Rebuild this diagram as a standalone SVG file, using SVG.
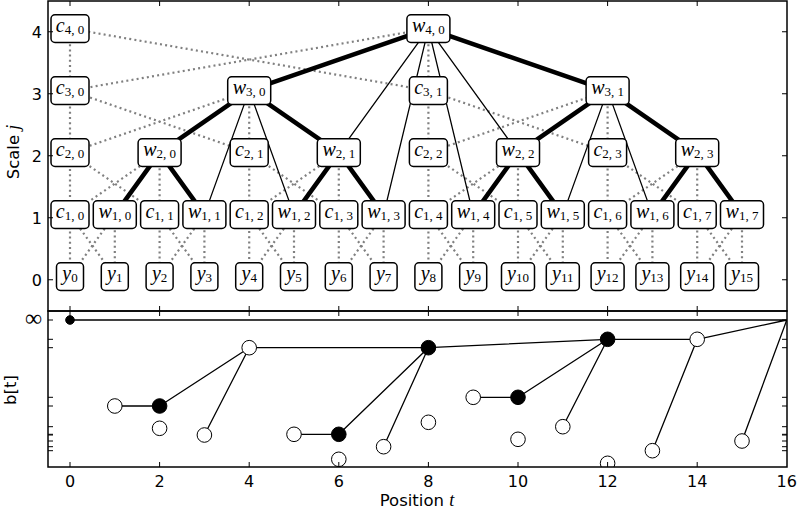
<svg xmlns="http://www.w3.org/2000/svg" width="797" height="510" viewBox="0 0 797 510">
<style>
.frame{fill:none;stroke:#000;stroke-width:1.5}
.tick{stroke:#000;stroke-width:1;fill:none}
.tl{font-family:"DejaVu Sans",sans-serif;font-size:16px;fill:#000}
.al{font-family:"DejaVu Sans",sans-serif;font-size:16.5px;fill:#000}
.mi{font-family:"Liberation Serif",serif;font-style:italic;font-size:18px}
.dot{stroke:#808080;stroke-width:2.2;stroke-dasharray:2 3.2;fill:none}
.thin{stroke:#000;stroke-width:1.3;fill:none}
.thick{stroke:#000;stroke-width:4.5;fill:none}
.box{fill:#fff;stroke:#000;stroke-width:1.5}
.lab{font-family:"Liberation Serif",serif;font-size:20px;font-style:italic;fill:#000;text-anchor:middle}
.sub{font-size:13px;font-style:normal}
.dl{stroke:#000;stroke-width:1.3;fill:none}
.op{fill:#fff;stroke:#000;stroke-width:1}
.fl{fill:#000;stroke:#000;stroke-width:1}
</style>
<defs>
<clipPath id="bclip"><rect x="48" y="311" width="739" height="156"/></clipPath>
</defs>
<rect x="0" y="0" width="797" height="510" fill="#fff"/>

<g id="connectors">
<path class="dot" d="M70 28.6V276.6M428.4 28.6V276.6M249.2 90.6V276.6M607.6 90.6V276.6M159.6 152.6V276.6M338.8 152.6V276.6M518 152.6V276.6M697.2 152.6V276.6M114.8 214.6V276.6M204.4 214.6V276.6M294 214.6V276.6M383.6 214.6V276.6M473.2 214.6V276.6M562.8 214.6V276.6M652.4 214.6V276.6M742 214.6V276.6"/>
<path class="dot" d="M70 90.6L428.4 28.6M428.4 90.6L70 28.6M70 152.6L249.2 90.6M249.2 152.6L70 90.6M428.4 152.6L607.6 90.6M607.6 152.6L428.4 90.6M70 214.6L159.6 152.6M159.6 214.6L70 152.6M249.2 214.6L338.8 152.6M338.8 214.6L249.2 152.6M428.4 214.6L518 152.6M518 214.6L428.4 152.6M607.6 214.6L697.2 152.6M697.2 214.6L607.6 152.6"/>
<path class="dot" d="M70 276.6L114.8 214.6M114.8 276.6L70 214.6M159.6 276.6L204.4 214.6M204.4 276.6L159.6 214.6M249.2 276.6L294 214.6M294 276.6L249.2 214.6M338.8 276.6L383.6 214.6M383.6 276.6L338.8 214.6M428.4 276.6L473.2 214.6M473.2 276.6L428.4 214.6M518 276.6L562.8 214.6M562.8 276.6L518 214.6M607.6 276.6L652.4 214.6M652.4 276.6L607.6 214.6M697.2 276.6L742 214.6M742 276.6L697.2 214.6"/>
<path class="thin" d="M428.4 28.6L338.8 152.6M428.4 28.6L518 152.6M428.4 28.6L383.6 214.6M428.4 28.6L473.2 214.6M249.2 90.6L204.4 214.6M249.2 90.6L294 214.6M607.6 90.6L562.8 214.6M607.6 90.6L652.4 214.6"/>
<path class="thick" d="M428.4 28.6L249.2 90.6M428.4 28.6L607.6 90.6M249.2 90.6L159.6 152.6M249.2 90.6L338.8 152.6M607.6 90.6L518 152.6M607.6 90.6L697.2 152.6M159.6 152.6L114.8 214.6M159.6 152.6L204.4 214.6M338.8 152.6L294 214.6M338.8 152.6L383.6 214.6M518 152.6L473.2 214.6M518 152.6L562.8 214.6M697.2 152.6L652.4 214.6M697.2 152.6L742 214.6"/>
</g>

<g id="c40"><rect class="box" x="51" y="14.8" width="38" height="27.6" rx="4"/><text class="lab" x="70" y="31.8">c<tspan class="sub" dy="2.5">4, 0</tspan></text></g>
<g id="w40"><rect class="box" x="406.9" y="14.8" width="43" height="27.6" rx="4"/><text class="lab" x="428.4" y="31.8">w<tspan class="sub" dy="2.5">4, 0</tspan></text></g>
<g id="c30"><rect class="box" x="51" y="76.8" width="38" height="27.6" rx="4"/><text class="lab" x="70" y="93.8">c<tspan class="sub" dy="2.5">3, 0</tspan></text></g>
<g id="w30"><rect class="box" x="227.7" y="76.8" width="43" height="27.6" rx="4"/><text class="lab" x="249.2" y="93.8">w<tspan class="sub" dy="2.5">3, 0</tspan></text></g>
<g id="c31"><rect class="box" x="409.4" y="76.8" width="38" height="27.6" rx="4"/><text class="lab" x="428.4" y="93.8">c<tspan class="sub" dy="2.5">3, 1</tspan></text></g>
<g id="w31"><rect class="box" x="586.1" y="76.8" width="43" height="27.6" rx="4"/><text class="lab" x="607.6" y="93.8">w<tspan class="sub" dy="2.5">3, 1</tspan></text></g>
<g id="c20"><rect class="box" x="51" y="138.8" width="38" height="27.6" rx="4"/><text class="lab" x="70" y="155.8">c<tspan class="sub" dy="2.5">2, 0</tspan></text></g>
<g id="w20"><rect class="box" x="138.1" y="138.8" width="43" height="27.6" rx="4"/><text class="lab" x="159.6" y="155.8">w<tspan class="sub" dy="2.5">2, 0</tspan></text></g>
<g id="c21"><rect class="box" x="230.2" y="138.8" width="38" height="27.6" rx="4"/><text class="lab" x="249.2" y="155.8">c<tspan class="sub" dy="2.5">2, 1</tspan></text></g>
<g id="w21"><rect class="box" x="317.3" y="138.8" width="43" height="27.6" rx="4"/><text class="lab" x="338.8" y="155.8">w<tspan class="sub" dy="2.5">2, 1</tspan></text></g>
<g id="c22"><rect class="box" x="409.4" y="138.8" width="38" height="27.6" rx="4"/><text class="lab" x="428.4" y="155.8">c<tspan class="sub" dy="2.5">2, 2</tspan></text></g>
<g id="w22"><rect class="box" x="496.5" y="138.8" width="43" height="27.6" rx="4"/><text class="lab" x="518" y="155.8">w<tspan class="sub" dy="2.5">2, 2</tspan></text></g>
<g id="c23"><rect class="box" x="588.6" y="138.8" width="38" height="27.6" rx="4"/><text class="lab" x="607.6" y="155.8">c<tspan class="sub" dy="2.5">2, 3</tspan></text></g>
<g id="w23"><rect class="box" x="675.7" y="138.8" width="43" height="27.6" rx="4"/><text class="lab" x="697.2" y="155.8">w<tspan class="sub" dy="2.5">2, 3</tspan></text></g>
<g id="c10"><rect class="box" x="51" y="200.8" width="38" height="27.6" rx="4"/><text class="lab" x="70" y="217.8">c<tspan class="sub" dy="2.5">1, 0</tspan></text></g>
<g id="w10"><rect class="box" x="93.3" y="200.8" width="43" height="27.6" rx="4"/><text class="lab" x="114.8" y="217.8">w<tspan class="sub" dy="2.5">1, 0</tspan></text></g>
<g id="c11"><rect class="box" x="140.6" y="200.8" width="38" height="27.6" rx="4"/><text class="lab" x="159.6" y="217.8">c<tspan class="sub" dy="2.5">1, 1</tspan></text></g>
<g id="w11"><rect class="box" x="182.9" y="200.8" width="43" height="27.6" rx="4"/><text class="lab" x="204.4" y="217.8">w<tspan class="sub" dy="2.5">1, 1</tspan></text></g>
<g id="c12"><rect class="box" x="230.2" y="200.8" width="38" height="27.6" rx="4"/><text class="lab" x="249.2" y="217.8">c<tspan class="sub" dy="2.5">1, 2</tspan></text></g>
<g id="w12"><rect class="box" x="272.5" y="200.8" width="43" height="27.6" rx="4"/><text class="lab" x="294" y="217.8">w<tspan class="sub" dy="2.5">1, 2</tspan></text></g>
<g id="c13"><rect class="box" x="319.8" y="200.8" width="38" height="27.6" rx="4"/><text class="lab" x="338.8" y="217.8">c<tspan class="sub" dy="2.5">1, 3</tspan></text></g>
<g id="w13"><rect class="box" x="362.1" y="200.8" width="43" height="27.6" rx="4"/><text class="lab" x="383.6" y="217.8">w<tspan class="sub" dy="2.5">1, 3</tspan></text></g>
<g id="c14"><rect class="box" x="409.4" y="200.8" width="38" height="27.6" rx="4"/><text class="lab" x="428.4" y="217.8">c<tspan class="sub" dy="2.5">1, 4</tspan></text></g>
<g id="w14"><rect class="box" x="451.7" y="200.8" width="43" height="27.6" rx="4"/><text class="lab" x="473.2" y="217.8">w<tspan class="sub" dy="2.5">1, 4</tspan></text></g>
<g id="c15"><rect class="box" x="499" y="200.8" width="38" height="27.6" rx="4"/><text class="lab" x="518" y="217.8">c<tspan class="sub" dy="2.5">1, 5</tspan></text></g>
<g id="w15"><rect class="box" x="541.3" y="200.8" width="43" height="27.6" rx="4"/><text class="lab" x="562.8" y="217.8">w<tspan class="sub" dy="2.5">1, 5</tspan></text></g>
<g id="c16"><rect class="box" x="588.6" y="200.8" width="38" height="27.6" rx="4"/><text class="lab" x="607.6" y="217.8">c<tspan class="sub" dy="2.5">1, 6</tspan></text></g>
<g id="w16"><rect class="box" x="630.9" y="200.8" width="43" height="27.6" rx="4"/><text class="lab" x="652.4" y="217.8">w<tspan class="sub" dy="2.5">1, 6</tspan></text></g>
<g id="c17"><rect class="box" x="678.2" y="200.8" width="38" height="27.6" rx="4"/><text class="lab" x="697.2" y="217.8">c<tspan class="sub" dy="2.5">1, 7</tspan></text></g>
<g id="w17"><rect class="box" x="720.5" y="200.8" width="43" height="27.6" rx="4"/><text class="lab" x="742" y="217.8">w<tspan class="sub" dy="2.5">1, 7</tspan></text></g>
<g id="y0"><rect class="box" x="56.5" y="262.8" width="27" height="27.6" rx="4"/><text class="lab" x="70" y="279.8">y<tspan class="sub" dy="2.5">0</tspan></text></g>
<g id="y1"><rect class="box" x="101.3" y="262.8" width="27" height="27.6" rx="4"/><text class="lab" x="114.8" y="279.8">y<tspan class="sub" dy="2.5">1</tspan></text></g>
<g id="y2"><rect class="box" x="146.1" y="262.8" width="27" height="27.6" rx="4"/><text class="lab" x="159.6" y="279.8">y<tspan class="sub" dy="2.5">2</tspan></text></g>
<g id="y3"><rect class="box" x="190.9" y="262.8" width="27" height="27.6" rx="4"/><text class="lab" x="204.4" y="279.8">y<tspan class="sub" dy="2.5">3</tspan></text></g>
<g id="y4"><rect class="box" x="235.7" y="262.8" width="27" height="27.6" rx="4"/><text class="lab" x="249.2" y="279.8">y<tspan class="sub" dy="2.5">4</tspan></text></g>
<g id="y5"><rect class="box" x="280.5" y="262.8" width="27" height="27.6" rx="4"/><text class="lab" x="294" y="279.8">y<tspan class="sub" dy="2.5">5</tspan></text></g>
<g id="y6"><rect class="box" x="325.3" y="262.8" width="27" height="27.6" rx="4"/><text class="lab" x="338.8" y="279.8">y<tspan class="sub" dy="2.5">6</tspan></text></g>
<g id="y7"><rect class="box" x="370.1" y="262.8" width="27" height="27.6" rx="4"/><text class="lab" x="383.6" y="279.8">y<tspan class="sub" dy="2.5">7</tspan></text></g>
<g id="y8"><rect class="box" x="414.9" y="262.8" width="27" height="27.6" rx="4"/><text class="lab" x="428.4" y="279.8">y<tspan class="sub" dy="2.5">8</tspan></text></g>
<g id="y9"><rect class="box" x="459.7" y="262.8" width="27" height="27.6" rx="4"/><text class="lab" x="473.2" y="279.8">y<tspan class="sub" dy="2.5">9</tspan></text></g>
<g id="y10"><rect class="box" x="501.5" y="262.8" width="33" height="27.6" rx="4"/><text class="lab" x="518" y="279.8">y<tspan class="sub" dy="2.5">10</tspan></text></g>
<g id="y11"><rect class="box" x="546.3" y="262.8" width="33" height="27.6" rx="4"/><text class="lab" x="562.8" y="279.8">y<tspan class="sub" dy="2.5">11</tspan></text></g>
<g id="y12"><rect class="box" x="591.1" y="262.8" width="33" height="27.6" rx="4"/><text class="lab" x="607.6" y="279.8">y<tspan class="sub" dy="2.5">12</tspan></text></g>
<g id="y13"><rect class="box" x="635.9" y="262.8" width="33" height="27.6" rx="4"/><text class="lab" x="652.4" y="279.8">y<tspan class="sub" dy="2.5">13</tspan></text></g>
<g id="y14"><rect class="box" x="680.7" y="262.8" width="33" height="27.6" rx="4"/><text class="lab" x="697.2" y="279.8">y<tspan class="sub" dy="2.5">14</tspan></text></g>
<g id="y15"><rect class="box" x="725.5" y="262.8" width="33" height="27.6" rx="4"/><text class="lab" x="742" y="279.8">y<tspan class="sub" dy="2.5">15</tspan></text></g>

<g id="top-axes">
<rect class="frame" x="48" y="1" width="739" height="310"/>
<path class="tick" d="M70 1v5M159.6 1v5M249.2 1v5M338.8 1v5M428.4 1v5M518 1v5M607.6 1v5M697.2 1v5M70 311v-5M159.6 311v-5M249.2 311v-5M338.8 311v-5M428.4 311v-5M518 311v-5M607.6 311v-5M697.2 311v-5"/>
<path class="tick" d="M48 31.75h5M48 93.75h5M48 155.75h5M48 217.75h5M48 279.75h5M787 31.75h-5M787 93.75h-5M787 155.75h-5M787 217.75h-5M787 279.75h-5"/>
<text class="tl" x="42" y="37.5" text-anchor="end">4</text>
<text class="tl" x="42" y="99.5" text-anchor="end">3</text>
<text class="tl" x="42" y="161.5" text-anchor="end">2</text>
<text class="tl" x="42" y="223.5" text-anchor="end">1</text>
<text class="tl" x="42" y="285.5" text-anchor="end">0</text>
<text class="al" transform="translate(19,152) rotate(-90)" text-anchor="middle">Scale <tspan class="mi">j</tspan></text>
</g>

<g id="bottom-plot" clip-path="url(#bclip)">
<path class="dl" d="M70 320H786.8M114.8 406H159.6M159.6 406L249.2 347.7M204.4 435L249.2 347.7M249.2 347.7H428.4M294 434.3H338.8M338.8 434.3L428.4 347.7M383.6 446.7L428.4 347.7M428.4 347.7L607.6 339.3M473.2 397.3H518M518 397.3L607.6 339.3M562.8 426.7L607.6 339.3M607.6 339.3H697.2M652.4 450.7L697.2 339.3M697.2 339.3L786.8 320M742 441L786.8 320"/>
<circle class="fl" cx="70" cy="320" r="4.3"/>
<circle class="op" cx="114.8" cy="406" r="7.3"/>
<circle class="fl" cx="159.6" cy="406" r="7.3"/>
<circle class="op" cx="159.6" cy="428.3" r="7.3"/>
<circle class="op" cx="204.4" cy="435" r="7.3"/>
<circle class="op" cx="249.2" cy="347.7" r="7.3"/>
<circle class="op" cx="294" cy="434.3" r="7.3"/>
<circle class="fl" cx="338.8" cy="434.3" r="7.3"/>
<circle class="op" cx="338.8" cy="459.3" r="7.3"/>
<circle class="op" cx="383.6" cy="446.7" r="7.3"/>
<circle class="fl" cx="428.4" cy="347.7" r="7.3"/>
<circle class="op" cx="428.4" cy="422.3" r="7.3"/>
<circle class="op" cx="473.2" cy="397.3" r="7.3"/>
<circle class="fl" cx="518" cy="397.3" r="7.3"/>
<circle class="op" cx="518" cy="439.3" r="7.3"/>
<circle class="op" cx="562.8" cy="426.7" r="7.3"/>
<circle class="fl" cx="607.6" cy="339.3" r="7.3"/>
<circle class="op" cx="607.6" cy="463.3" r="7.3"/>
<circle class="op" cx="652.4" cy="450.7" r="7.3"/>
<circle class="op" cx="697.2" cy="339.3" r="7.3"/>
<circle class="op" cx="742" cy="441" r="7.3"/>
</g>
<g id="bottom-axes">
<rect class="frame" x="48" y="311" width="739" height="156"/>
<path class="tick" d="M70 467v-5M159.6 467v-5M249.2 467v-5M338.8 467v-5M428.4 467v-5M518 467v-5M607.6 467v-5M697.2 467v-5M70 311v5M159.6 311v5M249.2 311v5M338.8 311v5M428.4 311v5M518 311v5M607.6 311v5M697.2 311v5"/>
<path class="tick" stroke="#333" d="M48 320h5M48 339.3h5M48 347.7h5M48 397.3h5M48 406h5M48 426.7h5M48 434.3h5M48 435h5M48 441h5M48 446.7h5M48 450.7h5M787 320h-5M787 339.3h-5M787 347.7h-5M787 397.3h-5M787 406h-5M787 426.7h-5M787 434.3h-5M787 435h-5M787 441h-5M787 446.7h-5M787 450.7h-5"/>
<text x="42" y="326" text-anchor="end" font-family="Liberation Serif, serif" font-size="24">&#x221E;</text>
<text class="tl" x="70" y="486.5" text-anchor="middle">0</text>
<text class="tl" x="159.6" y="486.5" text-anchor="middle">2</text>
<text class="tl" x="249.2" y="486.5" text-anchor="middle">4</text>
<text class="tl" x="338.8" y="486.5" text-anchor="middle">6</text>
<text class="tl" x="428.4" y="486.5" text-anchor="middle">8</text>
<text class="tl" x="518" y="486.5" text-anchor="middle">10</text>
<text class="tl" x="607.6" y="486.5" text-anchor="middle">12</text>
<text class="tl" x="697.2" y="486.5" text-anchor="middle">14</text>
<text class="tl" x="786.8" y="486.5" text-anchor="middle">16</text>
<text class="al" x="417" y="505.5" text-anchor="middle">Position <tspan class="mi">t</tspan></text>
<text class="al" transform="translate(15.5,390) rotate(-90)" text-anchor="middle">b[t]</text>
</g>
</svg>
